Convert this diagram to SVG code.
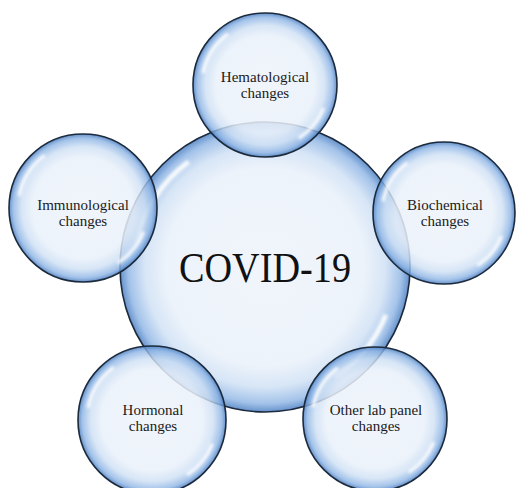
<svg xmlns="http://www.w3.org/2000/svg" width="516" height="488" viewBox="0 0 516 488">
<defs>
<radialGradient id="bub" cx="50%" cy="50%" r="50%">
<stop offset="0%" stop-color="#eef3fb" stop-opacity="0.85"/>
<stop offset="68%" stop-color="#eaf1fa" stop-opacity="0.85"/>
<stop offset="83%" stop-color="#cddff4" stop-opacity="0.8"/>
<stop offset="94%" stop-color="#8db4e4" stop-opacity="0.8"/>
<stop offset="100%" stop-color="#4f82c4" stop-opacity="0.88"/>
</radialGradient>
<filter id="soft" x="-20%" y="-20%" width="140%" height="140%">
<feGaussianBlur stdDeviation="1.6"/>
</filter>
</defs>
<style>
.b{fill:url(#bub);stroke:#1c2a3c;stroke-width:1.6}
.h{fill:none;stroke:#ffffff;stroke-opacity:0.9;stroke-linecap:butt;stroke-dasharray:0 6 10 37 12 35;filter:url(#soft)}
.t{font-family:"Liberation Serif","Times New Roman",serif;font-size:15px;fill:#1a1a1a;text-anchor:middle}
.c{font-family:"Liberation Serif","Times New Roman",serif;font-size:42px;fill:#111111;text-anchor:middle}
</style>
<rect width="516" height="488" fill="#ffffff"/>
<g id="covid">
<circle class="b" cx="265" cy="267" r="145"/>
<circle class="h" cx="265" cy="267" r="130" pathLength="100" stroke-width="5"/>
<text class="c" x="265" y="282" textLength="172" lengthAdjust="spacingAndGlyphs">COVID-19</text>
</g>
<g id="hematological">
<circle class="b" cx="265" cy="85" r="72"/>
<circle class="h" cx="265" cy="85" r="63" pathLength="100" stroke-width="3.5"/>
<text class="t" x="265" y="82">Hematological</text>
<text class="t" x="265" y="98">changes</text>
</g>
<g id="immunological">
<circle class="b" cx="83" cy="208" r="74"/>
<circle class="h" cx="83" cy="208" r="65" pathLength="100" stroke-width="3.5"/>
<text class="t" x="83" y="210">Immunological</text>
<text class="t" x="83" y="226">changes</text>
</g>
<g id="biochemical">
<circle class="b" cx="444" cy="213" r="71"/>
<circle class="h" cx="444" cy="213" r="62" pathLength="100" stroke-width="3.5"/>
<text class="t" x="445" y="210">Biochemical</text>
<text class="t" x="445" y="226">changes</text>
</g>
<g id="hormonal">
<circle class="b" cx="152" cy="420" r="74"/>
<circle class="h" cx="152" cy="420" r="65" pathLength="100" stroke-width="3.5"/>
<text class="t" x="153" y="415">Hormonal</text>
<text class="t" x="153" y="431">changes</text>
</g>
<g id="other">
<circle class="b" cx="375" cy="419" r="72"/>
<circle class="h" cx="375" cy="419" r="63" pathLength="100" stroke-width="3.5"/>
<text class="t" x="376" y="415">Other lab panel</text>
<text class="t" x="376" y="431">changes</text>
</g>
<g id="connectors"></g>
</svg>
